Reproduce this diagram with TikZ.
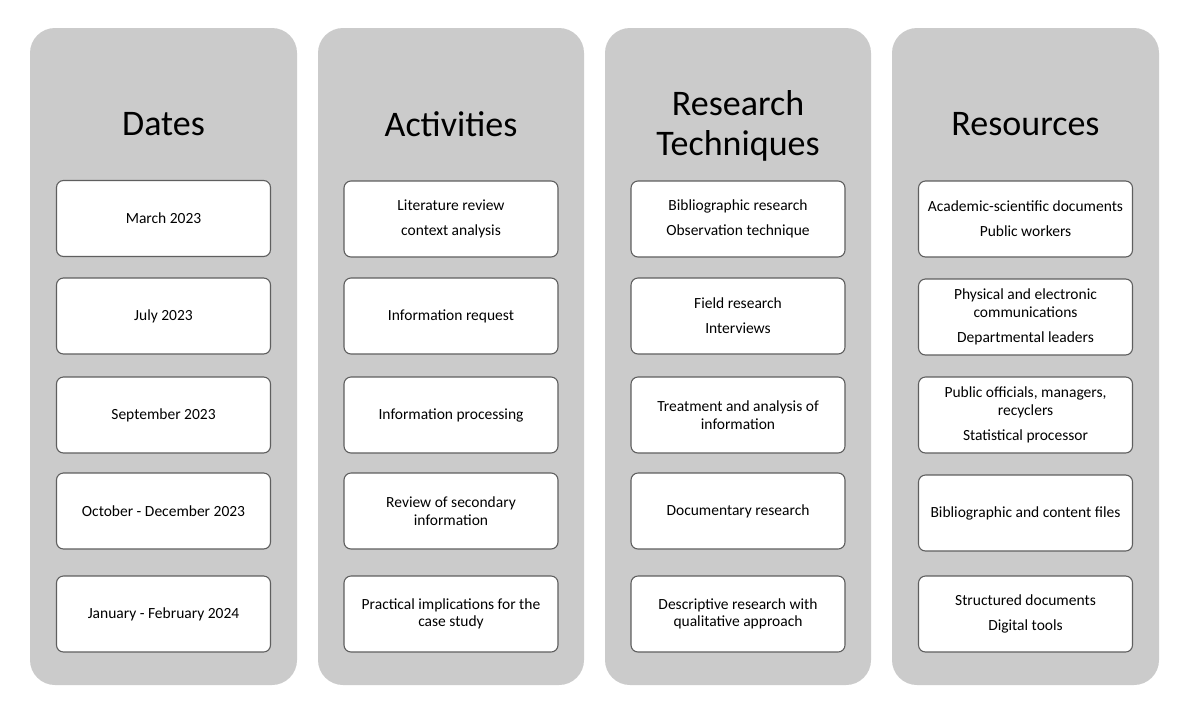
\documentclass[tikz,border=0pt]{standalone}
\usepackage{fontspec}
\setmainfont{Carlito}
\begin{document}
\begin{tikzpicture}[x=1pt,y=-1pt,
  column/.style={fill=colgrey,rounded corners=25pt},
  title/.style={font=\fontsize{36}{40}\selectfont,align=center,text=black},
  item/.style={draw=boxborder,line width=1.1pt,fill=white,rounded corners=7pt,
    minimum width=214pt,minimum height=76pt,align=center,inner sep=0pt,
    font=\fontsize{15.5}{17.5}\selectfont}]
\definecolor{colgrey}{HTML}{CBCBCB}
\definecolor{boxborder}{HTML}{5F5F5F}
\fill[white] (0,0) rectangle (1190,726);
\useasboundingbox (0,0) rectangle (1190,726);
% columns
\fill[column] (30,28) rectangle (297,685);
\fill[column] (318,28) rectangle (584,685);
\fill[column] (605,28) rectangle (871,685);
\fill[column] (892,28) rectangle (1159,685);
% titles
\node[title] (t1) at (163.5,124.5) {Dates};
\node[title] (t2) at (451,124.5) {Activities};
\node[title] (t3) at (738,125.5) {Research\\Techniques};
\node[title] (t4) at (1025.5,124.5) {Resources};
% column 1
\node[item] (a1) at (163.5,218.5) {March 2023};
\node[item] (a2) at (163.5,316) {July 2023};
\node[item] (a3) at (163.5,415) {September 2023};
\node[item] (a4) at (163.5,511) {October - December 2023};
\node[item] (a5) at (163.5,614) {January - February 2024};
% column 2
\node[item] (b1) at (451,219) {Literature review\\[7.5pt]context analysis};
\node[item] (b2) at (451,316) {Information request};
\node[item] (b3) at (451,415) {Information processing};
\node[item] (b4) at (451,511) {Review of secondary\\information};
\node[item] (b5) at (451,614) {Practical implications for the\\case study};
% column 3
\node[item] (c1) at (738,219) {Bibliographic research\\[7.5pt]Observation technique};
\node[item] (c2) at (738,316) {Field research\\[7.5pt]Interviews};
\node[item] (c3) at (738,415) {Treatment and analysis of\\information};
\node[item] (c4) at (738,511) {Documentary research};
\node[item] (c5) at (738,614) {Descriptive research with\\qualitative approach};
% column 4
\node[item] (d1) at (1025.5,219) {Academic-scientific documents\\[7.5pt]Public workers};
\node[item] (d2) at (1025.5,317) {Physical and electronic\\communications\\[7.5pt]Departmental leaders};
\node[item] (d3) at (1025.5,415) {Public officials, managers,\\recyclers\\[7.5pt]Statistical processor};
\node[item] (d4) at (1025.5,513) {Bibliographic and content files};
\node[item] (d5) at (1025.5,614) {Structured documents\\[7.5pt]Digital tools};
\end{tikzpicture}
\end{document}
